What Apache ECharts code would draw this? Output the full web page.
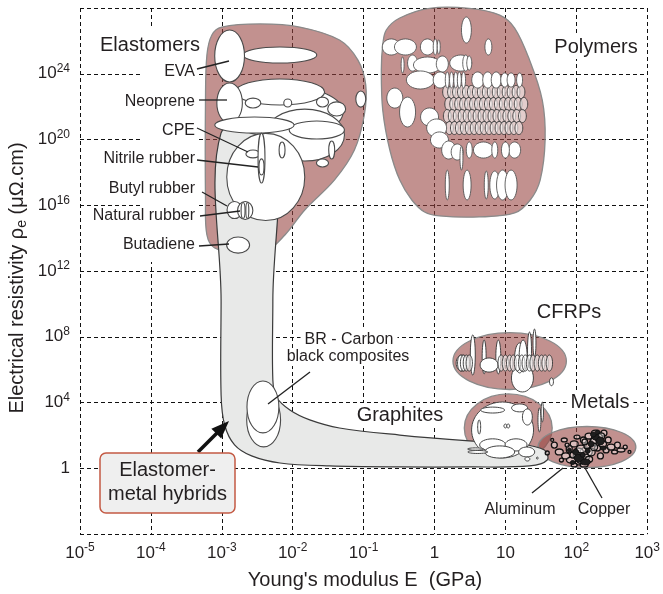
<!DOCTYPE html>
<html><head><meta charset="utf-8">
<script src="https://cdn.jsdelivr.net/npm/echarts@6/dist/echarts.min.js"></script>
<style>html,body{margin:0;padding:0;background:#fff}#c{width:663px;height:594px}</style>
</head><body><div id="c"></div>
<script>
// All values are log10 exponents: E in GPa, resistivity in µΩ·cm
const xTickExponents = [-5, -4, -3, -2, -1, 0, 1, 2, 3];
const yTickExponents = [-4, 0, 4, 8, 12, 16, 20, 24, 28];

// Family envelopes (outline points [logE, logRho])
const elastomerEnvelope = [[-3.00,26.84],[-2.46,27.03],[-1.90,26.84],[-1.34,26.05],[-1.08,24.83],[-0.97,23.32],[-0.99,21.49],[-1.13,19.36],[-1.41,17.54],[-1.83,15.71],[-2.11,14.19],[-2.39,13.16],[-2.75,13.10],[-3.10,13.40],[-3.21,14.19],[-3.23,16.32],[-3.23,22.40],[-3.21,25.14],[-3.14,26.36]];
const polymerEnvelope = [[-0.68,26.66],[-0.49,27.39],[-0.07,27.98],[0.49,27.98],[0.92,27.57],[1.13,26.78],[1.34,24.84],[1.52,22.40],[1.56,19.97],[1.49,17.53],[1.35,16.32],[1.13,15.53],[0.63,15.29],[0.07,15.35],[-0.14,15.59],[-0.32,16.32],[-0.49,17.53],[-0.63,19.36],[-0.73,21.79],[-0.75,24.23],[-0.73,25.75]];
const hybridBand = [[-3.01,20.40],[-2.28,20.40],[-2.28,10.2],[-2.28,5.37],[-2.23,4.33],[-2.04,3.54],[-1.76,2.94],[-1.34,2.45],[-0.49,2.02],[0.49,1.66],[1.20,1.47],[1.55,1.11],[1.59,0.50],[1.34,0.14],[0.49,0.08],[-0.49,0.08],[-1.48,0.14],[-2.18,0.32],[-2.58,0.75],[-2.82,1.42],[-2.96,2.63],[-3.01,4.46],[-3.01,10.2]];
// Elliptical family envelopes [logE, logRho, halfRangeE, halfRangeRho]
const familyEllipses = [
  [1.06, 6.52, 0.80, 1.73],   // CFRPs
  [1.04, 2.45, 0.62, 2.07],   // Graphites
  [2.15, 1.29, 0.69, 1.25]    // Metals
];

// Material bubbles [logE, logRho, halfRangeE, halfRangeRho]
const elastomerBubbles = [
  [-2.11,21.67,0.82,1.58],[-1.83,20.27,0.56,1.58],[-2.18,22.89,0.63,0.79],
  [-2.89,22.22,0.18,1.22],
  [-2.18,25.14,0.52,0.49],[-2.89,25.08,0.21,1.58],
  [-2.38,17.72,0.55,2.65],
  [-1.66,20.58,0.39,0.55],[-2.54,20.88,0.56,0.49],
  [-2.56,22.22,0.11,0.30],[-2.07,22.22,0.056,0.24],[-1.58,22.28,0.085,0.30],[-1.38,21.86,0.127,0.43],[-1.04,22.46,0.07,0.49],
  [-2.56,19.12,0.10,0.24],[-2.44,18.87,0.049,1.52],[-2.44,18.33,0.035,0.49],[-2.15,19.36,0.042,0.49],[-1.45,19.36,0.042,0.55],[-1.58,18.57,0.085,0.24],
  [-2.82,15.71,0.106,0.52],[-2.67,15.68,0.108,0.55],[-2.70,15.68,0.028,0.49],[-2.64,15.68,0.021,0.49],
  [-2.77,13.58,0.162,0.49]
];
const brCarbonBubbles = [[-2.41,2.94,0.239,1.64],[-2.42,3.73,0.225,1.58]];
const polymerHatchRows = [
  {rho:22.89, e:[0.17,0.24,0.31,0.38,0.45,0.52,0.59,0.66,0.73,0.80,0.87,0.94,1.01,1.08,1.15,1.22]},
  {rho:22.16, e:[0.20,0.27,0.34,0.41,0.48,0.55,0.62,0.69,0.76,0.83,0.90,0.97,1.04,1.11,1.18,1.26]},
  {rho:21.43, e:[0.18,0.25,0.32,0.39,0.46,0.53,0.60,0.67,0.74,0.81,0.88,0.95,1.02,1.09,1.16,1.24]},
  {rho:20.70, e:[0.21,0.28,0.35,0.42,0.49,0.56,0.63,0.70,0.77,0.84,0.91,0.98,1.05,1.12,1.19]}
];
const polymerBubbles = [
  [0.45,26.66,0.07,0.79],[0.76,25.63,0.049,0.49],[-0.61,25.63,0.127,0.49],[-0.41,25.63,0.155,0.49],[-0.10,25.63,0.099,0.49],[0.01,25.63,0.028,0.49],[0.06,25.63,0.021,0.43],
  [-0.45,24.53,0.021,0.49],[-0.31,24.65,0.07,0.49],[-0.10,24.53,0.197,0.49],[0.11,24.59,0.085,0.49],[0.37,24.65,0.155,0.49],[0.44,24.65,0.042,0.49],[0.49,24.65,0.035,0.43],
  [-0.20,23.62,0.197,0.55],[0.08,23.62,0.099,0.49],[0.18,23.62,0.028,0.49],[0.24,23.62,0.028,0.49],[0.30,23.62,0.028,0.49],[0.35,23.62,0.028,0.49],[0.41,23.62,0.028,0.49],
  [0.61,23.62,0.085,0.49],[0.75,23.62,0.07,0.49],[0.87,23.62,0.07,0.49],[0.99,23.62,0.056,0.43],[1.08,23.62,0.056,0.43],[1.20,23.62,0.042,0.43],
  [-0.56,22.52,0.113,0.61],[-0.38,21.67,0.113,0.91],
  [-0.07,21.37,0.127,0.55],[0.03,20.70,0.141,0.55],[0.07,19.97,0.127,0.49],[0.20,19.36,0.099,0.55],[0.32,19.24,0.085,0.49],
  [0.69,19.36,0.141,0.49],[1.13,19.36,0.085,0.49],[1.00,19.36,0.056,0.49],[0.49,19.36,0.042,0.49],[0.85,19.36,0.042,0.49],
  [0.38,18.87,0.021,0.73],
  [0.18,17.23,0.028,0.91],[0.46,17.23,0.056,0.91],[0.73,17.23,0.028,0.85],[0.85,17.23,0.07,0.85],[0.96,17.23,0.085,0.91],[1.08,17.23,0.085,0.91]
];
const cfrpBubbles = [
  [1.24,5.49,0.155,0.85],
  [0.54,6.89,0.035,1.22],[0.70,6.77,0.028,1.03],[0.90,6.77,0.035,1.03],[1.20,6.71,0.07,0.91],[1.25,6.83,0.056,0.97],[1.34,7.19,0.028,1.10],[1.41,7.62,0.021,0.85],
  [0.39,6.40,0.085,0.49],
  [0.77,6.28,0.127,0.43],
  [1.65,5.26,0.028,0.24]
];
const cfrpRowBubbles = [
  [0.37,6.40,0.045,0.49],[0.41,6.40,0.045,0.49],[0.45,6.40,0.045,0.49],[0.49,6.40,0.045,0.49],
  [0.94,6.40,0.045,0.49],[1.00,6.40,0.045,0.49],[1.06,6.40,0.045,0.49],[1.11,6.40,0.045,0.49],[1.17,6.40,0.045,0.49],[1.23,6.40,0.045,0.49],[1.28,6.40,0.045,0.49],
  [1.34,6.40,0.045,0.49],[1.39,6.40,0.045,0.49],[1.45,6.40,0.045,0.49],[1.51,6.40,0.045,0.49],[1.56,6.40,0.045,0.49],[1.62,6.40,0.045,0.49]
];
const graphiteBubbles = [
  [0.96,2.33,0.437,1.70],[0.82,3.54,0.169,0.18],[1.20,3.67,0.113,0.24],[1.31,3.12,0.07,0.49],[0.63,2.51,0.021,0.43],
  [1.00,2.57,0.021,0.12],[1.04,2.57,0.021,0.12],[0.82,1.42,0.183,0.37],[1.15,1.42,0.155,0.37],[0.92,0.99,0.211,0.37],[1.30,0.99,0.113,0.30],
  [1.48,2.94,0.021,0.73],[1.52,3.42,0.017,0.61],[0.61,0.99,0.141,0.09],[0.58,1.17,0.113,0.07],[1.31,0.56,0.035,0.12],[1.45,0.62,0.014,0.06]
];
const metalBubbles = [
  [2.14,0.99,0.085,0.30],[2.28,1.66,0.085,0.30],[2.03,0.99,0.07,0.24],
  [1.69,1.41,0.042,0.18],[1.76,0.99,0.056,0.18],[1.83,1.72,0.042,0.12],[1.85,0.75,0.056,0.18],[1.90,1.17,0.042,0.24],[1.93,0.50,0.07,0.18],
  [1.97,1.48,0.056,0.18],[2.00,0.81,0.042,0.24],[2.04,0.38,0.056,0.18],[2.07,1.17,0.07,0.24],[2.10,1.72,0.042,0.18],[2.13,0.68,0.056,0.18],
  [2.15,1.35,0.042,0.18],[2.18,1.96,0.056,0.18],[2.21,0.99,0.056,0.24],[2.24,1.60,0.042,0.24],[2.27,2.14,0.056,0.18],[2.30,1.23,0.042,0.18],
  [2.32,1.84,0.056,0.24],[2.34,0.75,0.042,0.18],[2.37,1.48,0.056,0.18],[2.39,2.14,0.042,0.18],[2.42,1.11,0.042,0.18],[2.45,1.72,0.042,0.18],
  [2.49,1.29,0.056,0.18],[2.54,0.99,0.042,0.12],[2.58,1.41,0.042,0.18],[2.63,1.11,0.056,0.12],[2.69,1.29,0.028,0.12],[2.75,0.99,0.021,0.09],
  [1.97,0.20,0.042,0.12],[2.11,0.20,0.056,0.12],[2.01,1.90,0.042,0.12],[1.87,1.41,0.028,0.12],[1.79,0.50,0.028,0.12],[1.59,0.93,0.028,0.12],[1.66,1.72,0.021,0.09],
  [2.06,0.50,0.05,0.20],[2.18,0.55,0.05,0.18],[2.25,1.30,0.05,0.22],[2.35,1.95,0.05,0.20],[2.12,1.60,0.04,0.18],[1.95,0.80,0.04,0.18]
];
const metalDenseBubbles = [
  [2.04,0.62,0.07,0.24],[2.13,0.38,0.07,0.18],[1.99,0.99,0.042,0.18],[2.27,1.90,0.056,0.18],
  [2.34,1.66,0.056,0.24],[2.21,1.48,0.042,0.18],[1.90,1.11,0.028,0.12],[2.38,1.23,0.042,0.12],
  [2.09,0.81,0.035,0.15],[2.30,2.20,0.035,0.12],[1.95,0.35,0.035,0.12],[2.16,1.05,0.035,0.15],[2.24,2.05,0.04,0.15]
];

const FONT = 'Liberation Sans, Arial, Helvetica, sans-serif';
const INK = '#231f20';
const PINK = 'rgba(150,65,62,0.58)';

function ellipseSeries(data, style, z) {
  return {
    type: 'custom', z: z, silent: true, data: data, encode: {x: 0, y: 1},
    renderItem: function (params, api) {
      const c = api.coord([api.value(0), api.value(1)]);
      const s = api.size([api.value(2), api.value(3)]);
      return {type: 'ellipse', shape: {cx: c[0], cy: c[1], rx: s[0], ry: s[1]}, style: style};
    }
  };
}
function outlineSeries(outlines, style, z) {
  return {
    type: 'custom', z: z, silent: true, data: outlines.map(o => o[0]), encode: {x: 0, y: 1},
    renderItem: function (params, api) {
      const pts = outlines[params.dataIndex].map(p => api.coord(p));
      return {type: 'polygon', shape: {points: pts, smooth: 0.35}, style: style};
    }
  };
}

const hatchData = [];
polymerHatchRows.forEach(r => r.e.forEach(e => hatchData.push([e, r.rho, 0.055, 0.40])));

const richTick = {
  b: {fontSize: 17, lineHeight: 22, fontFamily: FONT, color: INK},
  s: {fontSize: 12, lineHeight: 10, verticalAlign: 'top', fontFamily: FONT, color: INK}
};
function tickLabel(v) {
  if (v === 0) return '{b|1}';
  if (v === 1) return '{b|10}';
  return '{b|10}{s|' + v + '}';
}

function txt(text, x, y, size, align, bg, pad) {
  const st = {text: text, x: x, y: y, fill: INK, font: size + 'px ' + FONT, align: align || 'center', verticalAlign: 'middle'};
  if (bg) { st.backgroundColor = '#fff'; st.padding = pad || [2, 3]; }
  return {type: 'text', z: 30, silent: true, style: st};
}
function leader(x1, y1, x2, y2) {
  return {type: 'line', z: 25, silent: true, shape: {x1: x1, y1: y1, x2: x2, y2: y2}, style: {stroke: '#222', lineWidth: 1.3}};
}

const chart = echarts.init(document.getElementById('c'), null, {renderer: 'canvas'});
chart.setOption({
  animation: false,
  grid: {left: 80, right: 15, top: 8, bottom: 60},
  xAxis: {
    type: 'value', min: xTickExponents[0], max: xTickExponents[xTickExponents.length - 1], interval: 1,
    axisLine: {show: false}, axisTick: {show: false},
    splitLine: {show: true, lineStyle: {color: '#111', type: [4, 3], width: 1}},
    axisLabel: {margin: 8, formatter: tickLabel, rich: richTick}
  },
  yAxis: {
    type: 'value', min: yTickExponents[0], max: yTickExponents[yTickExponents.length - 1], interval: 4,
    axisLine: {show: false}, axisTick: {show: false},
    splitLine: {show: true, lineStyle: {color: '#111', type: [4, 3], width: 1}},
    axisLabel: {margin: 10, formatter: v => (v === yTickExponents[0] || v === yTickExponents[yTickExponents.length - 1]) ? '' : tickLabel(v), rich: richTick}
  },
  series: [
    outlineSeries([elastomerEnvelope, polymerEnvelope], {fill: PINK, stroke: '#8a8a8a', lineWidth: 1.3}, 2),
    ellipseSeries(familyEllipses, {fill: PINK, stroke: '#8a8a8a', lineWidth: 1.3}, 2),
    outlineSeries([hybridBand], {fill: '#e8e9e8', stroke: '#3a3a3a', lineWidth: 1.2}, 3),
    ellipseSeries(elastomerBubbles, {fill: '#fff', stroke: '#4a4a4a', lineWidth: 1.1}, 4),
    ellipseSeries(brCarbonBubbles, {fill: '#fff', stroke: '#4a4a4a', lineWidth: 1.1}, 4),
    ellipseSeries(hatchData, {fill: 'rgba(255,255,255,0.55)', stroke: '#3a3a3a', lineWidth: 0.9}, 4),
    ellipseSeries(polymerBubbles, {fill: '#fff', stroke: '#555', lineWidth: 0.9}, 5),
    ellipseSeries(cfrpBubbles, {fill: '#fff', stroke: '#333', lineWidth: 0.9}, 4),
    ellipseSeries(cfrpRowBubbles, {fill: 'rgba(255,255,255,0.6)', stroke: '#333', lineWidth: 0.9}, 4),
    ellipseSeries(graphiteBubbles, {fill: '#fff', stroke: '#444', lineWidth: 1}, 4),
    ellipseSeries(metalBubbles, {fill: 'rgba(255,255,255,0.4)', stroke: '#111', lineWidth: 1.3}, 4),
    ellipseSeries(metalDenseBubbles, {fill: '#1e1e1e', stroke: '#111', lineWidth: 1}, 5)
  ],
  graphic: {elements: [
    {type: 'rect', z: 1, silent: true, shape: {x: 140, y: 28, width: 58, height: 234}, style: {fill: '#fff'}},
    txt('Elastomers', 150, 45, 20, 'center', true),
    txt('Polymers', 596, 47, 20, 'center', true),
    txt('CFRPs', 569, 312, 20, 'center', true),
    txt('Metals', 600, 402, 20, 'center', true, [2, 4]),
    txt('Graphites', 400, 415, 20, 'center', true, [2, 5]),
    txt('BR - Carbon', 349, 340, 16, 'center', true, [4, 4, 0, 4]),
    txt('black composites', 348, 357, 16, 'center', true, [0, 4, 2, 4]),
    txt('Aluminum', 520, 510, 16, 'center', true),
    txt('Copper', 604, 510, 16, 'center', true),
    txt('EVA', 195, 72, 16, 'right'),
    txt('Neoprene', 195, 102, 16, 'right'),
    txt('CPE', 195, 131, 16, 'right'),
    txt('Nitrile rubber', 195, 159, 16, 'right', true, [1, 0, 1, 2]),
    txt('Butyl rubber', 195, 189, 16, 'right'),
    txt('Natural rubber', 195, 216, 16, 'right', true, [1, 0, 1, 2]),
    txt('Butadiene', 195, 245, 16, 'right'),
    leader(197, 69, 229, 61), leader(199, 100, 227, 100), leader(197, 128, 248, 152), leader(197, 160, 258, 167),
    leader(202, 192, 227, 206), leader(200, 216, 240, 211), leader(199, 246, 229, 244),
    leader(310, 372, 268, 404), leader(532, 493, 563, 468), leader(602, 498, 585, 468),
    {type: 'line', z: 25, silent: true, shape: {x1: 198, y1: 452, x2: 218, y2: 432}, style: {stroke: '#111', lineWidth: 3.5}},
    {type: 'polygon', z: 25, silent: true, shape: {points: [[229, 421], [221.2, 438.6], [211.4, 428.8]]}, style: {fill: '#111'}},
    {type: 'rect', z: 26, silent: true, shape: {x: 100, y: 453, width: 135, height: 60, r: 6}, style: {fill: '#efefef', stroke: '#c45a44', lineWidth: 1.5}},
    txt('Elastomer-', 167.5, 470, 20, 'center'),
    txt('metal hybrids', 167.5, 494, 20, 'center'),
    {type: 'text', z: 30, silent: true, x: 365, y: 580, style: {text: "Young's modulus E  (GPa)", fill: INK, font: '20px ' + FONT, align: 'center', verticalAlign: 'middle'}},
    {type: 'text', z: 30, silent: true, x: 17, y: 278, rotation: Math.PI / 2,
     style: {text: '{a|Electrical resistivity ρ}{e|e}{a| (μΩ.cm)}', align: 'center', verticalAlign: 'middle', fill: INK,
       rich: {a: {fontSize: 20, lineHeight: 24, fontFamily: FONT, fill: INK, color: INK},
              e: {fontSize: 14, lineHeight: 14, verticalAlign: 'bottom', fontFamily: FONT, fill: INK, color: INK}}}}
  ]}
});
</script></body></html>
